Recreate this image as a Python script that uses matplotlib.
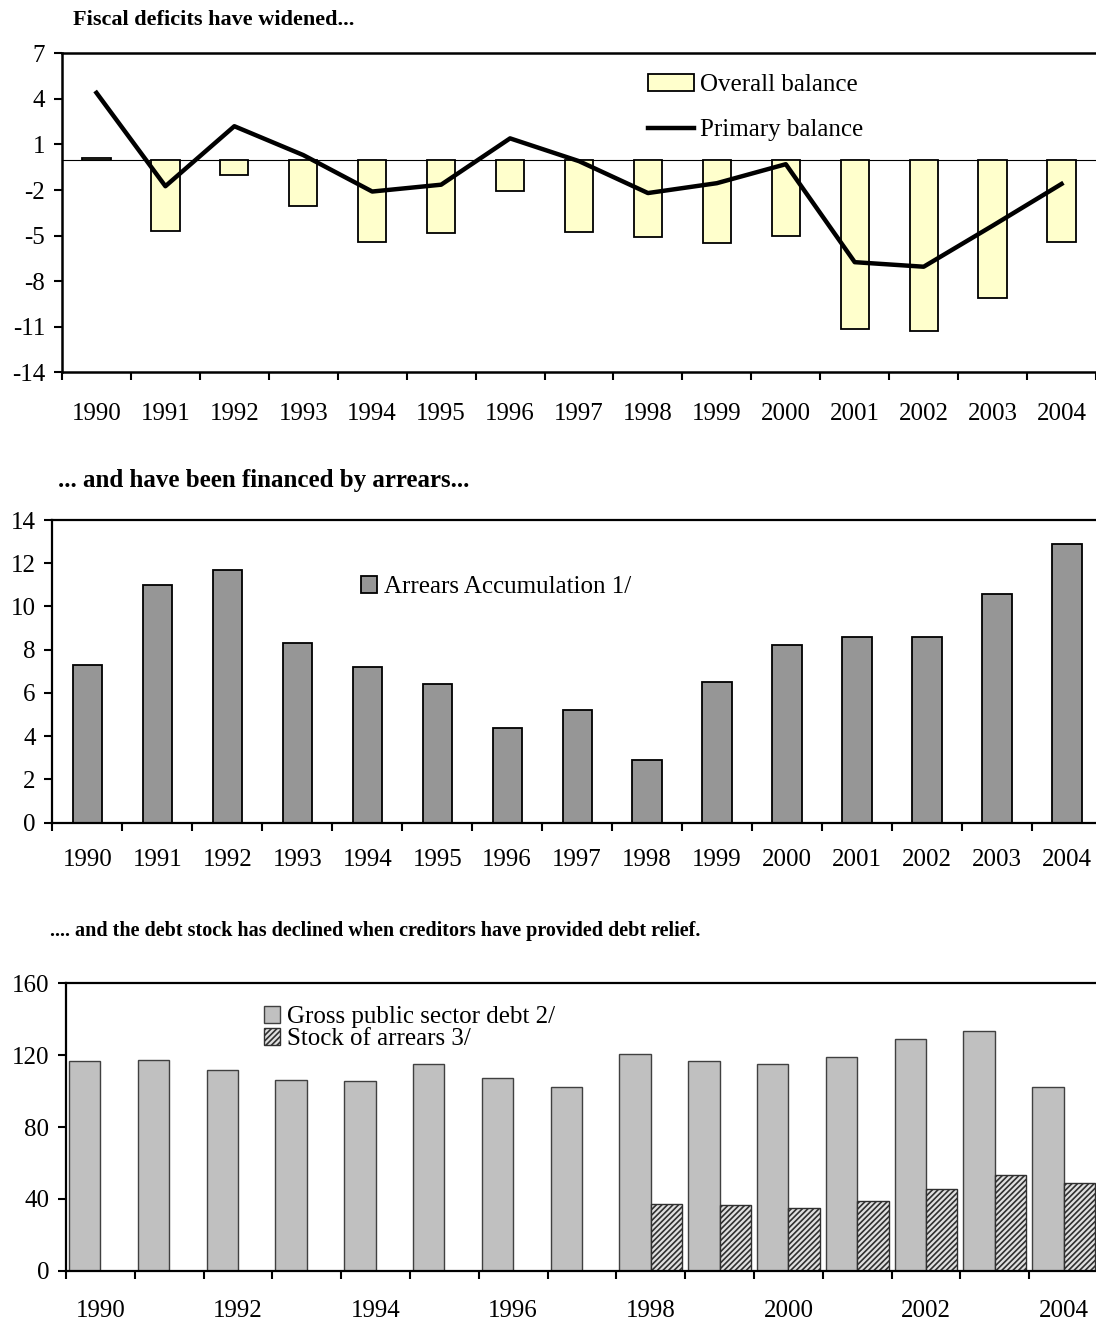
import numpy as np
import matplotlib
matplotlib.use("Agg")
import matplotlib.pyplot as plt

# ---------------- data ----------------
years = [1990, 1991, 1992, 1993, 1994, 1995, 1996, 1997, 1998, 1999,
         2000, 2001, 2002, 2003, 2004]

overall_balance = [0.1, -4.7, -1.0, -3.05, -5.4, -4.85, -2.05, -4.75, -5.1,
                   -5.5, -5.05, -11.15, -11.25, -9.1, -5.45]
primary_balance = [4.4, -1.75, 2.2, 0.3, -2.1, -1.65, 1.4, -0.1, -2.2,
                   -1.55, -0.3, -6.75, -7.05, -4.35, -1.6]

arrears_accumulation = [7.3, 11.0, 11.7, 8.3, 7.2, 6.4, 4.4, 5.2, 2.9, 6.5,
                        8.2, 8.6, 8.6, 10.6, 12.9]

gross_debt = [117.0, 117.5, 112.0, 106.0, 105.5, 115.0, 107.5, 102.0, 120.5,
              117.0, 115.3, 119.2, 128.8, 133.3, 102.0]
arrears_stock = [None, None, None, None, None, None, None, None, 36.9, 36.4,
                 34.7, 39.0, 45.3, 53.1, 48.6]

title_top = "Fiscal deficits have widened..."
title_mid = "... and have been financed by arrears..."
title_bot = ".... and the debt stock has declined when creditors have provided debt relief."

# ---------------- style ----------------
plt.rcParams['font.family'] = ['Liberation Serif', 'DejaVu Serif']
plt.rcParams['font.size'] = 18
plt.rcParams['axes.unicode_minus'] = False
plt.rcParams['hatch.linewidth'] = 1.2

W, H = 1096, 1321
fig = plt.figure(figsize=(W / 100, H / 100), dpi=100)


def axes_px(left, top, right, bottom):
    return fig.add_axes([left / W, 1 - bottom / H, (right - left) / W, (bottom - top) / H])


x = np.arange(len(years))


def style_axes(ax, spine_lw, label_pad, every=1):
    ax.set_xlim(-0.5, len(years) - 0.5)
    for s in ['top', 'left', 'bottom']:
        ax.spines[s].set_linewidth(spine_lw)
    ax.spines['right'].set_visible(False)
    ax.set_xticks(np.arange(-0.5, len(years), 1.0))
    ax.set_xticklabels([])
    ax.set_xticks(x[::every], minor=True)
    ax.set_xticklabels([str(y) for y in years[::every]], minor=True)
    ax.tick_params(axis='x', which='major', direction='out', length=6, width=1.5)
    ax.tick_params(axis='x', which='minor', length=0, pad=label_pad, labelsize=18)
    ax.tick_params(axis='y', direction='out', length=6, width=1.5, pad=6, labelsize=18)


# ---------------- top chart ----------------
ax1 = axes_px(62, 53.3, 1096, 372.3)
bars1 = ax1.bar(x, overall_balance, width=0.41, color='#FFFFCC', edgecolor='black',
                linewidth=1.3, label='Overall balance', zorder=2)
line1, = ax1.plot(x, primary_balance, color='black', linewidth=3.2,
                  label='Primary balance', zorder=3)
ax1.axhline(0, color='black', linewidth=0.8, zorder=1)
ax1.set_ylim(-14, 7)
ax1.set_yticks(np.arange(-14, 8, 3))
style_axes(ax1, 1.8, 22)
ax1.legend(handles=[bars1, line1], loc='upper left', bbox_to_anchor=(648 / W, 1 - 74 / H),
           bbox_transform=fig.transFigure, frameon=False, fontsize=18,
           borderpad=0, borderaxespad=0, handlelength=1.84, handleheight=0.64,
           handletextpad=0.24, labelspacing=0.92)

# ---------------- middle chart ----------------
ax2 = axes_px(52.4, 520, 1102, 822.7)
ax2.bar(x, arrears_accumulation, width=0.42, color='#969696', edgecolor='black',
        linewidth=1.3, label='Arrears Accumulation 1/', zorder=2)
ax2.set_ylim(0, 14)
ax2.set_yticks(np.arange(0, 15, 2))
style_axes(ax2, 1.6, 19)
ax2.legend(loc='upper left', bbox_to_anchor=(361.4 / W, 1 - 576 / H),
           bbox_transform=fig.transFigure, frameon=False, fontsize=18,
           borderpad=0, borderaxespad=0, handlelength=0.64, handleheight=0.64,
           handletextpad=0.28)

# ---------------- bottom chart ----------------
ax3 = axes_px(66, 983.3, 1098, 1270.7)
w = 0.455
stock = np.array([np.nan if v is None else v for v in arrears_stock], dtype=float)
ax3.bar(x - w / 2, gross_debt, width=w, color='#C0C0C0', edgecolor='#404040',
        linewidth=1.0, label='Gross public sector debt 2/', zorder=2)
mask = ~np.isnan(stock)
ax3.bar(x[mask] + w / 2, stock[mask], width=w, color='#E0E0E0', edgecolor='#303030',
        hatch='//////', linewidth=1.0, label='Stock of arrears 3/', zorder=2)
ax3.set_ylim(0, 160)
ax3.set_yticks(np.arange(0, 161, 40))
style_axes(ax3, 1.6, 21, every=2)
ax3.legend(loc='upper left', bbox_to_anchor=(264 / W, 1 - 1006 / H),
           bbox_transform=fig.transFigure, frameon=False, fontsize=18,
           borderpad=0, borderaxespad=0, handlelength=0.64, handleheight=0.64,
           handletextpad=0.28, labelspacing=0.0)

# ---------------- titles ----------------
fig.text(73 / W, 1 - 25 / H, title_top, fontsize=16, fontweight='bold', va='baseline')
fig.text(58 / W, 1 - 487 / H, title_mid, fontsize=18, fontweight='bold', va='baseline')
fig.text(50 / W, 1 - 936 / H, title_bot, fontsize=14.5, fontweight='bold', va='baseline')

fig.savefig("out.png", dpi=100)
